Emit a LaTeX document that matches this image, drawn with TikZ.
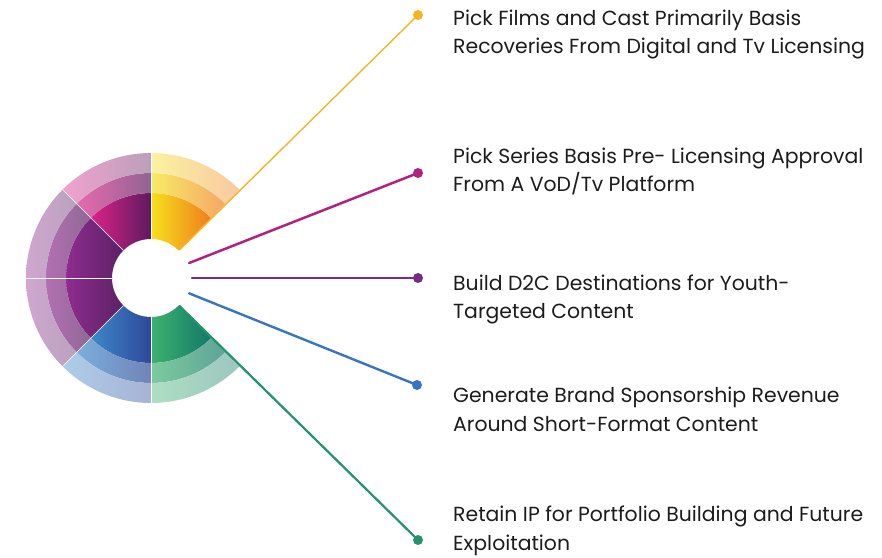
\documentclass[tikz,border=0pt]{standalone}
\usepackage{fontspec}
\setmainfont{Poppins}
\usetikzlibrary{calc}
\definecolor{yelL}{HTML}{F5E11C}
\definecolor{yelR}{HTML}{F07D1E}
\definecolor{magL}{HTML}{DC2287}
\definecolor{magR}{HTML}{5C1B5E}
\definecolor{purL}{HTML}{8E2C8E}
\definecolor{purR}{HTML}{5A2164}
\definecolor{bluL}{HTML}{3B88CA}
\definecolor{bluR}{HTML}{2F4898}
\definecolor{grnL}{HTML}{3EB26F}
\definecolor{grnR}{HTML}{137868}
\definecolor{lnY}{HTML}{F4B520}
\definecolor{lnM}{HTML}{B3217E}
\definecolor{lnP}{HTML}{7A2A82}
\definecolor{lnB}{HTML}{3A74BE}
\definecolor{lnG}{HTML}{23936E}
\definecolor{txt}{HTML}{1C1C1C}
\newcommand\bandpath[4]{($(C)+(#1:#3pt)$) -- ($(C)+(#1:#4pt)$) arc[start angle=#1,end angle=#2,radius=#4pt] -- ($(C)+(#2:#3pt)$) arc[start angle=#2,end angle=#1,radius=#3pt] -- cycle}
\newcommand\ringseg[4]{%
  \shade[left color=#3,right color=#4] \bandpath{#1}{#2}{39}{85};
  \shade[left color=#3!68!white,right color=#4!68!white] \bandpath{#1}{#2}{85}{105};
  \shade[left color=#3!42!white,right color=#4!42!white] \bandpath{#1}{#2}{105}{125};
}
\begin{document}
\begin{tikzpicture}[x=1pt,y=1pt,
  dot/.style={circle,inner sep=0pt,minimum size=10pt},
  conn/.style={line cap=round},
  item/.style={anchor=base west,inner sep=0pt,align=left,text=txt,
    font=\fontsize{20.4}{28.5}\selectfont}]
\useasboundingbox (0,0) rectangle (882,557);
\coordinate (C) at (151,279);
% ring segments
\ringseg{45}{90}{yelL}{yelR}
\ringseg{90}{135}{magL}{magR}
\ringseg{135}{180}{purL}{purR}
\ringseg{180}{225}{purL}{purR}
\ringseg{225}{270}{bluL}{bluR}
\ringseg{270}{315}{grnL}{grnR}
\foreach \a in {90,135,180,225,270}
  \draw[white,line width=0.6pt] ($(C)+(\a:39pt)$) -- ($(C)+(\a:125pt)$);
% dots
\node[dot,fill=lnY] (d1) at (418,542) {};
\node[dot,fill=lnM] (d2) at (418,384) {};
\node[dot,fill=lnP] (d3) at (418,279) {};
\node[dot,fill=lnB] (d4) at (417,172) {};
\node[dot,fill=lnG] (d5) at (418,17) {};
% line starts
\coordinate (s1) at ($(C)!40pt!(d1)$);
\coordinate (s2) at ($(C)!41pt!(d2)$);
\coordinate (s3) at ($(C)!41pt!(d3)$);
\coordinate (s4) at ($(C)!41pt!(d4)$);
\coordinate (s5) at ($(C)!40pt!(d5)$);
\draw[conn,lnY,line width=1.4pt] (s1) -- (d1);
\draw[conn,lnM,line width=2.5pt] (s2) -- (d2);
\draw[conn,lnP,line width=2.5pt] (s3) -- (d3);
\draw[conn,lnB,line width=2.4pt] (s4) -- (d4);
\draw[conn,lnG,line width=2.2pt] (s5) -- (d5);
% texts (anchor = baseline of last line)
\node[item] (t1) at (453,503) {Pick Films and Cast Primarily Basis\\Recoveries From Digital and Tv Licensing};
\node[item] (t2) at (453,365) {Pick Series Basis Pre- Licensing Approval\\From A VoD/Tv Platform};
\node[item] (t3) at (453,238) {Build D2C Destinations for Youth-\\Targeted Content};
\node[item] (t4) at (453,126) {Generate Brand Sponsorship Revenue\\Around Short-Format Content};
\node[item] (t5) at (453,7) {Retain IP for Portfolio Building and Future\\Exploitation};
\end{tikzpicture}
\end{document}
